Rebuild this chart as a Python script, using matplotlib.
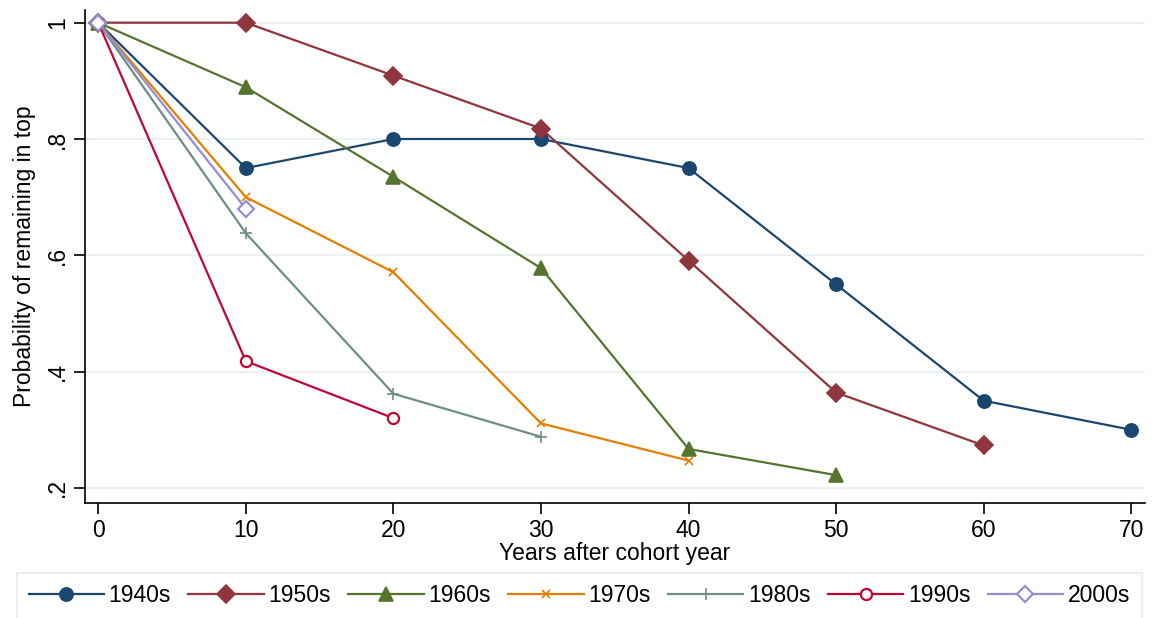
import matplotlib.pyplot as plt

plt.rcParams['font.family'] = ['Liberation Sans', 'DejaVu Sans']

years = [0, 10, 20, 30, 40, 50, 60, 70]
cohorts = ["1940s", "1950s", "1960s", "1970s", "1980s", "1990s", "2000s"]

p1940 = [1.0, 0.75, 0.80, 0.80, 0.75, 0.55, 0.35, 0.30]
p1950 = [1.0, 1.0, 0.909, 0.818, 0.591, 0.364, 0.273]
p1960 = [1.0, 0.889, 0.735, 0.578, 0.267, 0.222]
p1970 = [1.0, 0.70, 0.571, 0.311, 0.247]
p1980 = [1.0, 0.638, 0.362, 0.288]
p1990 = [1.0, 0.418, 0.32]
p2000 = [1.0, 0.68]

series = [p1940, p1950, p1960, p1970, p1980, p1990, p2000]

# stata s2color palette
colors = ["#1a476f", "#90353b", "#55752f", "#e37e00", "#6e8e84", "#c10534", "#938dd2"]
markers = ["o", "D", "^", "x", "+", "o", "D"]
msizes = [9.5, 9, 10, 6, 9, 8, 8]
filled = [True, True, True, True, True, False, False]

fs = 16.5

fig = plt.figure(figsize=(11.53, 6.18), dpi=100)
ax = fig.add_axes([0.0737, 0.186, 0.919, 0.798])

for lab, vals, c, m, ms, f in zip(cohorts, series, colors, markers, msizes, filled):
    ax.plot(years[:len(vals)], vals, color=c, lw=1.6, marker=m, ms=ms,
            mfc=c if f else "white", mec=c, mew=1.6 if not f else 1.2,
            label=lab, zorder=3)

ax.set_xlim(-0.9, 70.9)
ax.set_ylim(0.174, 1.022)
ax.set_xticks(range(0, 71, 10))
ax.set_yticks([0.2, 0.4, 0.6, 0.8, 1.0])
ax.set_yticklabels([".2", ".4", ".6", ".8", "1"], rotation=90, va="center")
ax.tick_params(labelsize=fs, length=8, width=1.2, color="black")
ax.yaxis.grid(True, color="#eaf2f3", lw=1.5, zorder=0)
ax.set_axisbelow(True)
for s in ["top", "right"]:
    ax.spines[s].set_visible(False)
for s in ["left", "bottom"]:
    ax.spines[s].set_linewidth(1.2)

ax.set_xlabel("Years after cohort year", fontsize=fs, labelpad=0)
ax.set_ylabel("Probability of remaining in top", fontsize=fs, labelpad=7)

leg = fig.legend(loc="lower center", bbox_to_anchor=(0.5025, -0.02), ncol=7,
                 fontsize=fs, frameon=True, fancybox=False, handlelength=3.3,
                 handletextpad=0.2, columnspacing=0.75, borderpad=0.5)
leg.get_frame().set_edgecolor("#dde6ea")
leg.get_frame().set_linewidth(1.2)

fig.savefig("out.png", dpi=100)
